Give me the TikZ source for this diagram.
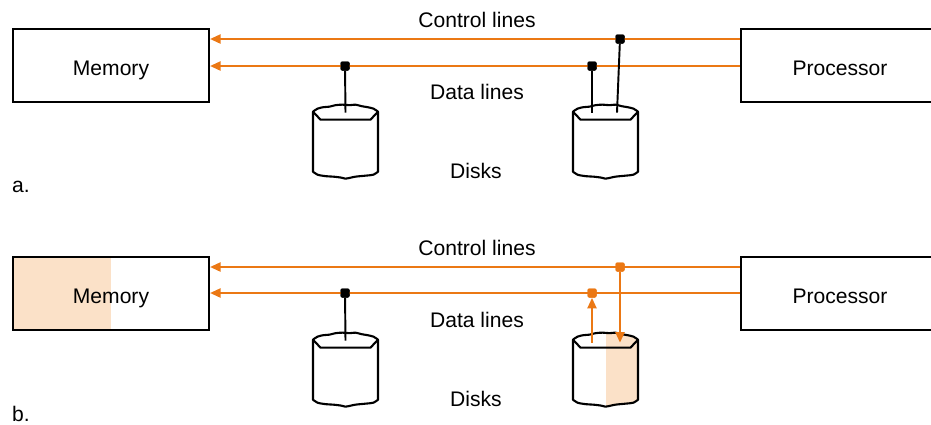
\documentclass[tikz,border=0pt]{standalone}
\usepackage{fontspec}
\setmainfont{Liberation Sans}
\usepackage{tikz}
\usetikzlibrary{arrows.meta}

\definecolor{busorange}{RGB}{235,120,20}
\definecolor{busfill}{RGB}{251,225,200}

\newcommand{\diskbody}{plot[smooth] coordinates {(-32.5,7) (-28,4) (-22,2.5) (-16,2) (-10,0.5) (-3,0) (4,0.5) (10,0) (16,1.5) (22,2.5) (28,4) (32.5,7)} -- plot[smooth] coordinates {(32.5,67) (28,70) (20,71) (10,72) (3,73.5) (0,74) (-4,73) (-12,72) (-20,71.5) (-28,70) (-32.5,67)} -- cycle}
\newcommand{\drawdisk}[1]{%
  \begin{scope}[shift={(#1.north)}]
    \draw[diskline] \diskbody;
    \draw[diskline] (-32.5,7) -- (-25,15) -- (25,15) -- (32.5,7);
  \end{scope}}

\begin{document}
\begin{tikzpicture}[x=0.02cm, y=-0.02cm,
    unit/.style={draw, line width=1.2pt, minimum width=3.92cm, minimum height=1.46cm, inner sep=0pt, text height=11pt, text depth=0pt, font=\fontsize{12}{14}\selectfont},
    disk/.style={minimum width=1.3cm, minimum height=1.48cm, inner sep=0pt},
    diskline/.style={line width=1.2pt, line join=round},
    dot/.style={rectangle, fill=black, minimum size=0.18cm, inner sep=0pt, rounded corners=0.8pt},
    odot/.style={dot, fill=busorange},
    bus/.style={draw=busorange, line width=1.2pt, -{Triangle[length=0.21cm, width=0.18cm]}},
    wire/.style={line width=1.1pt},
    lbl/.style={font=\fontsize{12}{14}\selectfont}]
        \clip (0,0) rectangle (931,424);

        \node[unit] (memA) at (111,65.5) {Memory};
        \node[unit, minimum width=3.96cm] (procA) at (840,65.5) {Processor};
        \node[disk] (diskA1) at (345.5,142) {};
        \node[disk] (diskA2) at (605.5,142) {};
        \node[dot] (dA1) at (345,66) {};
        \node[dot] (dA2) at (592,66) {};
        \node[dot] (cA2) at (620,39) {};
        \coordinate (inA1) at ([yshift=-0.16cm]diskA1.north);
        \coordinate (inA2) at ([yshift=-0.16cm]diskA2.north);
        \coordinate (inA3) at ([xshift=-0.06cm]cA2 |- inA2);

        \node[lbl] (ctlA) at (477,20) {Control lines};
        \node[lbl] (datA) at (477,92) {Data lines};
        \node[lbl] (dskA) at (476,171) {Disks};
        \node[lbl] (tagA) at (21,187) {a.};

        \drawdisk{diskA1}
        \drawdisk{diskA2}
        \draw[bus] (procA.west |- cA2) -- (memA.east |- cA2);
        \draw[bus] (procA.west |- dA2) -- (memA.east |- dA2);
        \draw[wire] (dA1) -- (inA1);
        \draw[wire] (dA2) -- (dA2 |- inA2);
        \draw[wire] (cA2) -- (inA3);
        \node[dot] at (dA1) {};
        \node[dot] at (dA2) {};
        \node[dot] at (cA2) {};

        \node[unit, draw=none] (memB) at (111,293.5) {};
        \node[unit, minimum width=3.96cm] (procB) at (840,293.5) {Processor};
        \node[disk] (diskB1) at (345.5,370) {};
        \node[disk] (diskB2) at (605.5,370) {};
        \node[dot] (dB1) at (345,293) {};
        \node[odot] (dB2) at (592,293) {};
        \node[odot] (cB2) at (620,267) {};
        \coordinate (inB1) at ([yshift=-0.16cm]diskB1.north);
        \coordinate (inB2) at ([yshift=-0.2cm]diskB2.north);

        \fill[busfill] (memB.south west) rectangle (memB.north);
        \node[unit] at (memB) {Memory};
        \begin{scope}[shift={(diskB2.north)}]
            \clip \diskbody;
            \fill[busfill] (0.5,-2) rectangle (34,76);
        \end{scope}

        \node[lbl] (ctlB) at (477,248) {Control lines};
        \node[lbl] (datB) at (477,320) {Data lines};
        \node[lbl] (dskB) at (476,399) {Disks};
        \node[lbl] (tagB) at (21,414) {b.};

        \drawdisk{diskB1}
        \drawdisk{diskB2}
        \draw[bus] (procB.west |- cB2) -- (memB.east |- cB2);
        \draw[bus] (procB.west |- dB2) -- (memB.east |- dB2);
        \draw[wire] (dB1) -- (inB1);
        \draw[bus] (dB2 |- inB2) -- (dB2.south);
        \draw[bus] (cB2) -- (cB2 |- inB2);
        \node[dot] at (dB1) {};
        \node[odot] at (dB2) {};
        \node[odot] at (cB2) {};
    \end{tikzpicture}
\end{document}
